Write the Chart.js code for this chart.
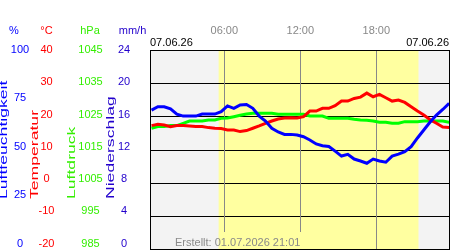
<!DOCTYPE html>
<html><head><meta charset="utf-8">
<script src="https://cdn.jsdelivr.net/npm/chart.js@4"></script>
<style>html,body{margin:0;padding:0;background:#fff;}canvas{display:block}</style>
</head><body>
<canvas id="c" width="450" height="250"></canvas>
<script>
// ---- data (hours of day) ----
const times = [0.25,0.75,1.25,1.75,2.25,2.75,3.25,3.75,4.25,4.75,5.25,5.75,6.25,6.75,7.25,7.75,8.25,8.75,9.25,9.75,10.25,10.75,11.25,11.75,12.25,12.75,13.25,13.75,14.25,14.75,15.25,15.75,16.25,16.75,17.25,17.75,18.25,18.75,19.25,19.75,20.25,20.75,21.25,21.75,22.25,22.75,23.25,23.75];
const humidity = [69.8,71.5,71.5,70.4,67.8,66.8,66.8,66.8,67.8,67.8,67.8,69.0,71.9,70.7,72.4,72.6,70.7,66.8,64.3,60.7,58.8,57.6,57.6,57.3,56.4,54.8,52.8,51.9,51.5,49.2,46.7,47.6,45.2,44.2,43.1,45.2,44.2,43.6,46.7,47.7,48.9,51.4,55.8,59.8,63.8,67.3,70.1,73.2];
const temperature = [17.2,17.6,17.4,16.9,17.2,17.2,17.1,16.9,16.9,16.6,16.4,16.3,15.9,15.9,15.4,15.7,16.4,17.1,17.9,18.6,19.2,19.5,19.6,19.5,19.9,21.6,21.6,22.4,22.4,23.2,24.6,24.6,25.4,25.8,27.0,25.9,26.6,25.6,24.6,24.9,24.2,22.9,21.6,20.4,19.0,17.9,16.8,16.6];
const pressure = [1021.4,1021.9,1021.9,1022.2,1022.2,1022.9,1023.6,1023.6,1023.6,1023.9,1023.9,1024.4,1024.5,1024.9,1025.3,1025.7,1025.9,1025.9,1025.9,1025.9,1025.6,1025.6,1025.6,1025.6,1025.6,1025.1,1025.1,1025.1,1024.4,1024.4,1024.4,1024.4,1024.1,1023.9,1023.8,1023.6,1023.2,1023.2,1022.9,1022.9,1023.4,1023.4,1023.4,1023.6,1023.6,1023.6,1023.6,1023.2];

const humidityTicks = [100,75,50,25,0];
const temperatureTicks = [40,30,20,10,0,-10,-20];
const pressureTicks = [1045,1035,1025,1015,1005,995,985];
const rainTicks = [24,20,16,12,8,4,0];
const hourTicks = [6,12,18];
const hourLabels = ['06:00','12:00','18:00'];
const dateLabel = '07.06.26';
const createdLabel = 'Erstellt: 01.07.2026 21:01';
const sunrise = 5.55, sunset = 21.33;
const xMin = 0.13, xMax = 23.74;

const FONT = '11px "Liberation Sans", Arial, sans-serif';
const C_HUM = '#0000ff', C_TEMP = '#ff0000', C_PRES = '#33ee00', C_RAIN = '#2200cc';
const LABEL_SPAN = 193.5; // tick label column is a bit shorter than the plot

const decor = {
  id: 'decor',
  beforeDatasetsDraw(chart) {
    const {ctx, chartArea: a, scales} = chart;
    const xs = scales.x.getPixelForValue(sunrise), xe = scales.x.getPixelForValue(sunset);
    ctx.save();
    ctx.fillStyle = '#f3f3f3';
    ctx.fillRect(a.left, a.top, a.right - a.left, a.bottom - a.top);
    ctx.fillStyle = '#ffffa0';
    ctx.fillRect(xs, a.top, xe - xs, a.bottom - a.top);
    ctx.strokeStyle = '#000'; ctx.lineWidth = 1;
    temperatureTicks.forEach(v => {
      const y = Math.round(scales.yT.getPixelForValue(v)) + 0.5;
      ctx.beginPath(); ctx.moveTo(a.left, y); ctx.lineTo(a.right, y); ctx.stroke();
    });
    ctx.strokeStyle = '#888';
    hourTicks.forEach(h => {
      const x = Math.round(scales.x.getPixelForValue(h)) + 0.5;
      ctx.beginPath(); ctx.moveTo(x, a.top); ctx.lineTo(x, a.bottom); ctx.stroke();
    });
    // label box at bottom
    ctx.font = FONT;
    const tx = 175, tw = ctx.measureText(createdLabel).width;
    const bx0 = tx - 2, bx1 = tx + tw + 1, by0 = 232, by1 = a.bottom;
    ctx.fillStyle = '#f3f3f3'; ctx.fillRect(bx0, by0, Math.max(0, Math.min(xs, bx1) - bx0), by1 - by0);
    ctx.fillStyle = '#ffffa0'; ctx.fillRect(Math.max(xs, bx0), by0, bx1 - Math.max(xs, bx0), by1 - by0);
    ctx.fillStyle = '#8a8a8a'; ctx.textAlign = 'left'; ctx.textBaseline = 'alphabetic';
    ctx.fillText(createdLabel, tx, 245.5);
    ctx.restore();
  },
  afterDraw(chart) {
    const {ctx, chartArea: a, scales} = chart;
    const ly = (scale, v) => a.top + (scale.getPixelForValue(v) - a.top) * LABEL_SPAN / (a.bottom - a.top);
    ctx.save();
    ctx.strokeStyle = '#000'; ctx.lineWidth = 1;
    ctx.strokeRect(a.left + 0.5, a.top + 0.5, a.right - a.left, a.bottom - a.top);
    ctx.font = FONT;
    // top header
    ctx.textBaseline = 'alphabetic'; ctx.textAlign = 'center';
    ctx.fillStyle = C_HUM; ctx.fillText('%', 14, 34);
    ctx.fillStyle = C_TEMP; ctx.fillText('°C', 46.5, 34);
    ctx.fillStyle = C_PRES; ctx.fillText('hPa', 90, 34);
    ctx.fillStyle = C_RAIN; ctx.fillText('mm/h', 132.5, 34);
    ctx.fillStyle = '#888';
    hourTicks.forEach((h, i) => ctx.fillText(hourLabels[i], scales.x.getPixelForValue(h), 34));
    ctx.fillStyle = '#000';
    ctx.textAlign = 'left'; ctx.fillText(dateLabel, 150, 46);
    ctx.textAlign = 'right'; ctx.fillText(dateLabel, 449, 46);
    // tick labels
    ctx.textAlign = 'center'; ctx.textBaseline = 'middle';
    ctx.fillStyle = C_HUM; humidityTicks.forEach(v => ctx.fillText(String(v), 20, ly(scales.yH, v)));
    ctx.fillStyle = C_TEMP; temperatureTicks.forEach(v => ctx.fillText(String(v), 46.5, ly(scales.yT, v)));
    ctx.fillStyle = C_PRES; pressureTicks.forEach(v => ctx.fillText(String(v), 90.5, ly(scales.yP, v)));
    ctx.fillStyle = C_RAIN; rainTicks.forEach(v => ctx.fillText(String(v), 124, ly(scales.yR, v)));
    // rotated titles
    const titles = [['Luftfeuchtigkeit', C_HUM, 6.5], ['Temperatur', C_TEMP, 37.5], ['Luftdruck', C_PRES, 74.5], ['Niederschlag', C_RAIN, 114]];
    ctx.textAlign = 'left'; ctx.textBaseline = 'alphabetic';
    titles.forEach(([t, c, x]) => {
      ctx.save();
      ctx.translate(x, 199); ctx.rotate(-Math.PI / 2); ctx.scale(1.6, 1);
      ctx.fillStyle = c; ctx.fillText(t, 0, 0);
      ctx.restore();
    });
    ctx.restore();
  }
};

const pts = vals => times.map((t, i) => ({x: t, y: vals[i]}));
const ds = (label, vals, axis, color) => ({label, data: pts(vals), yAxisID: axis, borderColor: color,
  backgroundColor: color, borderWidth: 3, pointRadius: 0, tension: 0, fill: false});

new Chart(document.getElementById('c'), {
  type: 'line',
  data: { datasets: [
    ds('Luftfeuchtigkeit', humidity, 'yH', '#0000ff'),
    ds('Temperatur', temperature, 'yT', '#ff0000'),
    ds('Luftdruck', pressure, 'yP', '#00ff00')
  ]},
  options: {
    responsive: false, animation: false, devicePixelRatio: 1,
    layout: { padding: { left: 150, top: 50, right: 1, bottom: 1 } },
    plugins: { legend: { display: false }, tooltip: { enabled: false } },
    scales: {
      x: { type: 'linear', min: xMin, max: xMax, display: false },
      yH: { type: 'linear', min: 0, max: 100, display: false },
      yT: { type: 'linear', min: -20, max: 40, display: false },
      yP: { type: 'linear', min: 985, max: 1045, display: false },
      yR: { type: 'linear', min: 0, max: 24, display: false }
    }
  },
  plugins: [decor]
});
</script>
</body></html>
